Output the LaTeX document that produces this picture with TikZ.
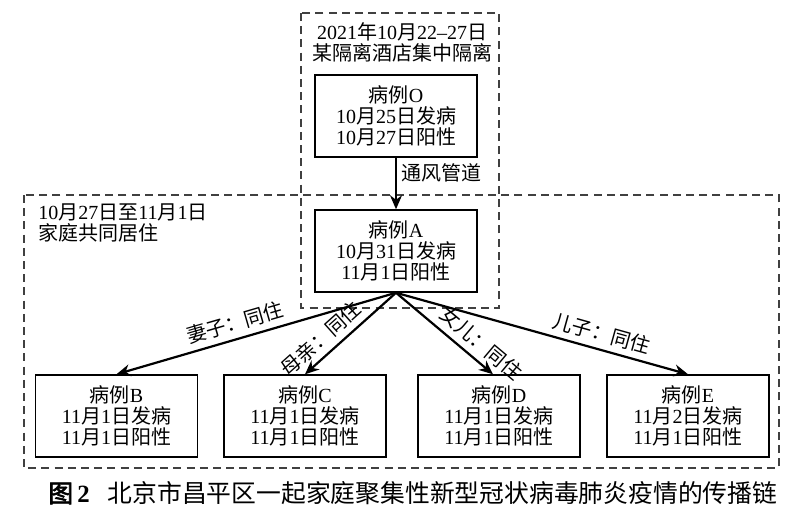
\documentclass[tikz,border=0pt]{standalone}
\usepackage{fontspec}
\setmainfont{Liberation Serif}
\newfontfamily\cjk{Noto Sans CJK SC}
\newfontfamily\cjkbf{Noto Sans CJK SC}[FakeBold=2.5]
\usetikzlibrary{arrows.meta}
\newcommand{\zh}[1]{{\cjk #1}}

\begin{document}
\begin{tikzpicture}[x=0.5pt, y=-0.5pt,
	every node/.style={font=\fontsize{10pt}{10.4pt}\selectfont, align=center, inner sep=0pt},
	case/.style={draw, line width=0.75pt, minimum width=81pt, minimum height=41pt},
	zone/.style={draw=black!75, line width=0.75pt, dash pattern=on 4pt off 2.6pt},
	link/.style={line width=1.1pt, -{Stealth[length=7pt,width=6pt]}},
	along/.style={sloped, above, inner sep=3pt, pos=#1}]
	\useasboundingbox (0,0) rectangle (812,516);
	
	% the two places
	\draw[zone] (301,13) rectangle (499,308);
	\draw[zone] (24,195) rectangle (779,468);
	\node (hotel) at (402,42) {2021\zh{年}10\zh{月}22–27\zh{日}\\\zh{某隔离酒店集中隔离}};
	\node[align=left, anchor=west] (home) at (38,223) {10\zh{月}27\zh{日至}11\zh{月}1\zh{日}\\\zh{家庭共同居住}};
	
	\node[case] (O) at (396,116) {\zh{病例}O\\10\zh{月}25\zh{日发病}\\10\zh{月}27\zh{日阳性}};
	\node[case] (A) at (396,251) {\zh{病例}A\\10\zh{月}31\zh{日发病}\\11\zh{月}1\zh{日阳性}};
	\node[case] (B) at (116.5,416) {\zh{病例}B\\11\zh{月}1\zh{日发病}\\11\zh{月}1\zh{日阳性}};
	\node[case] (C) at (305,416) {\zh{病例}C\\11\zh{月}1\zh{日发病}\\11\zh{月}1\zh{日阳性}};
	\node[case] (D) at (499,416) {\zh{病例}D\\11\zh{月}1\zh{日发病}\\11\zh{月}1\zh{日阳性}};
	\node[case] (E) at (688,416) {\zh{病例}E\\11\zh{月}2\zh{日发病}\\11\zh{月}1\zh{日阳性}};
	
	\draw[link] (O) -- (A) node[right=2pt, pos=0.3] {\zh{通风管道}};
	\draw[link] (A.south) -- (B.north) node[along=0.56] {\zh{妻子：同住}};
	\draw[link] (A.south) -- (C.north) node[along=0.71] {\zh{母亲：同住}};
	\draw[link] (A.south) -- ([xshift=-3pt]D.north) node[along=0.77] {\zh{女儿：同住}};
	\draw[link] (A.south) -- (E.north) node[along=0.69] {\zh{儿子：同住}};
	
	\node[anchor=west, font=\fontsize{12.4pt}{14pt}\selectfont] (cap) at (48,493)
		{{\cjkbf 图}\,\textbf{2}\hspace{9pt}\zh{北京市昌平区一起家庭聚集性新型冠状病毒肺炎疫情的传播链}};
\end{tikzpicture}
\end{document}
